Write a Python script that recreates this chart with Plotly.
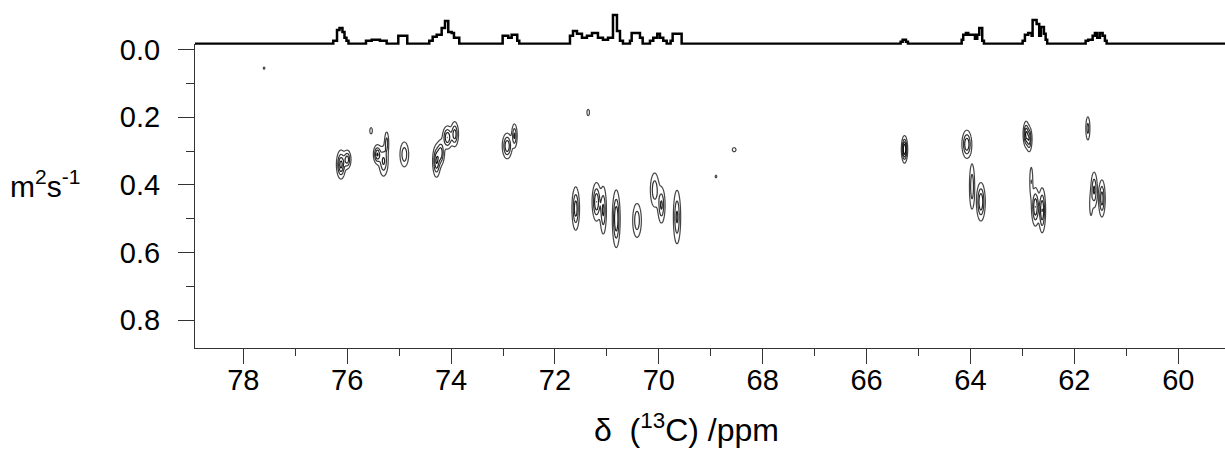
import numpy as np
import plotly.graph_objects as go

# ---------------- 1D 13C projection (step trace, ppm / relative intensity) ----------------
spec_ppm = [79.0, 76.268, 76.196, 76.148, 76.091, 76.052, 76.014, 75.975,
            75.638, 75.528, 75.369, 75.240,
            75.016, 74.843,
            74.420, 74.354, 74.277, 74.181, 74.117, 74.054, 73.988, 73.944, 73.842,
            73.007, 72.899, 72.833, 72.726, 72.687,
            71.711, 71.653, 71.576, 71.480, 71.384, 71.287, 71.172, 71.076, 70.979,
            70.883, 70.806, 70.748, 70.691,
            70.556, 70.523, 70.363, 70.311,
            70.171, 70.107, 70.030, 69.978, 69.915, 69.849,
            69.773, 69.734, 69.561,
            65.345, 65.306, 65.243, 65.204,
            64.170, 64.140, 64.088, 64.043, 63.914, 63.870, 63.831, 63.774, 63.741,
            62.996, 62.952, 62.888, 62.823, 62.804, 62.727, 62.677, 62.644, 62.586,
            62.553, 62.523,
            61.783, 61.733, 61.648, 61.604, 61.560, 61.508, 61.456, 61.412, 61.379,
            59.0]
spec_int = [0, 3, 14, 16, 12, 6, 3, 0,
            3, 4, 3, 0,
            8, 0,
            3, 7, 9, 16, 23, 12, 11, 6, 0,
            8, 6, 9, 3, 0,
            8, 13, 10, 6, 8, 11, 6, 4, 6,
            29, 13, 3, 0,
            3, 11, 6, 0,
            3, 6, 10, 6, 3, 0,
            3, 10, 0,
            2, 4, 2, 0,
            4, 9, 11, 9, 5, 9, 16, 3, 0,
            3, 9, 11, 8, 24, 20, 8, 17, 10,
            4, 0,
            3, 4, 8, 11, 6, 11, 8, 3, 0,
            0]

# ---------------- DOSY cross peaks (ppm, D, widths, relative amplitude) ----------------
spot_ppm = [76.12, 76.00, 75.54, 75.42, 75.30, 75.24, 74.90, 74.28, 74.20, 74.07, 73.93,
            72.92, 72.78, 71.60, 71.20, 71.07, 70.82, 70.42, 70.08, 69.95, 69.65,
            68.90, 68.55, 71.36, 77.60,
            65.27, 64.07, 62.93, 62.87, 61.74, 63.97, 63.80, 62.83, 62.75, 62.62,
            61.62, 61.47, 61.68]
spot_D = [0.340, 0.325, 0.240, 0.310, 0.330, 0.275, 0.310, 0.330, 0.305, 0.260, 0.250,
          0.285, 0.255, 0.470, 0.450, 0.475, 0.500, 0.505, 0.415, 0.460, 0.495,
          0.375, 0.296, 0.186, 0.055,
          0.295, 0.280, 0.250, 0.265, 0.233, 0.405, 0.450, 0.390, 0.465, 0.475,
          0.415, 0.440, 0.460]
spot_sx = [0.045, 0.040, 0.020, 0.040, 0.050, 0.025, 0.050, 0.040, 0.040, 0.050, 0.040,
           0.050, 0.030, 0.040, 0.045, 0.035, 0.040, 0.050, 0.050, 0.040, 0.040,
           0.020, 0.030, 0.020, 0.020,
           0.030, 0.050, 0.030, 0.030, 0.025, 0.030, 0.045, 0.020, 0.040, 0.035,
           0.035, 0.035, 0.020]
spot_sy = [0.022, 0.015, 0.008, 0.015, 0.025, 0.020, 0.022, 0.025, 0.020, 0.018, 0.020,
           0.020, 0.020, 0.035, 0.030, 0.040, 0.045, 0.030, 0.030, 0.030, 0.045,
           0.005, 0.005, 0.008, 0.004,
           0.020, 0.022, 0.020, 0.020, 0.022, 0.040, 0.030, 0.030, 0.030, 0.035,
           0.030, 0.030, 0.025]
spot_amp = [1.0, 0.8, 0.3, 0.9, 0.7, 0.5, 0.6, 0.9, 0.8, 0.9, 0.8,
            0.9, 0.7, 0.8, 0.9, 0.7, 0.9, 0.6, 0.6, 0.7, 0.7,
            0.2, 0.3, 0.3, 0.2,
            1.2, 0.9, 0.9, 0.8, 0.5, 0.6, 0.9, 0.4, 0.9, 0.9,
            0.7, 0.8, 0.3]

x_ticks = [78, 76, 74, 72, 70, 68, 66, 64, 62, 60]
y_ticks = [0.0, 0.2, 0.4, 0.6, 0.8]
y_ticktext = ["0.0", "0.2", "0.4", "0.6", "0.8"]

# grid for the contour trace built from the peak list
gx = np.arange(61.0, 78.0, 0.01)
gy = np.arange(0.02, 0.62, 0.002)
X, Y = np.meshgrid(gx, gy)
Z = np.zeros_like(X)
for p, d, sx, sy, a in zip(spot_ppm, spot_D, spot_sx, spot_sy, spot_amp):
    Z += a * np.exp(-0.5 * ((X - p) / sx) ** 2 - 0.5 * ((Y - d) / sy) ** 2)
Z = Z.astype(np.float32)

FONT = "Arial, Liberation Sans, sans-serif"

fig = go.Figure()
fig.add_trace(go.Contour(
    x=gx, y=gy, z=Z,
    contours=dict(coloring="lines", start=0.15, end=0.9, size=0.25),
    line=dict(width=1.2),
    colorscale=[[0, "#444444"], [1, "#111111"]],
    showscale=False, hoverinfo="skip",
    xaxis="x", yaxis="y",
))
fig.add_trace(go.Scatter(
    x=spec_ppm, y=spec_int, mode="lines",
    line=dict(color="black", width=2.5, shape="hv"),
    hoverinfo="skip", xaxis="x", yaxis="y2",
))

fig.update_layout(
    width=1225, height=451,
    margin=dict(l=195, r=0, t=8, b=103),
    paper_bgcolor="white", plot_bgcolor="white",
    showlegend=False,
    font=dict(family=FONT, color="black"),
    xaxis=dict(
        range=[78.93, 59.10], anchor="y",
        tickmode="array", tickvals=x_ticks,
        ticks="outside", ticklen=15, tickwidth=1, tickcolor="#333",
        minor=dict(dtick=1, tick0=59, ticks="outside", ticklen=7, tickwidth=1, tickcolor="#333"),
        showline=True, linecolor="#333", linewidth=1,
        showgrid=False, zeroline=False,
        ticklabelstandoff=-9,
        tickfont=dict(size=29, family=FONT),
    ),
    yaxis=dict(
        domain=[0, 0.9], range=[0.882, -0.0168],
        tickmode="array", tickvals=y_ticks, ticktext=y_ticktext,
        ticks="outside", ticklen=16, tickwidth=1, tickcolor="#333",
        minor=dict(tickvals=[0.1, 0.3, 0.5, 0.7], ticks="outside", ticklen=8, tickwidth=1, tickcolor="#333"),
        showline=True, linecolor="#333", linewidth=1,
        showgrid=False, zeroline=False,
        ticklabelstandoff=12,
        tickfont=dict(size=29, family=FONT),
    ),
    yaxis2=dict(
        domain=[0.897, 1.0], range=[-1, 34], anchor="x",
        visible=False, showgrid=False, zeroline=False,
    ),
    annotations=[
        dict(text="m<sup>2</sup>s<sup>-1</sup>", xref="paper", yref="paper",
             x=(8 - 195) / 1030, y=(348 - 183) / 340, xanchor="left", yanchor="middle",
             showarrow=False, font=dict(size=30, family=FONT)),
        dict(text="\u03b4\u00a0\u00a0(<sup>13</sup>C) /ppm", xref="paper", yref="paper",
             x=(686 - 195) / 1030, y=(348 - 428) / 340, xanchor="center", yanchor="middle",
             showarrow=False, font=dict(size=32, family=FONT)),
    ],
)

fig.write_html("out.html",
               config={"displayModeBar": False},
               post_script="document.body.style.margin='0';document.body.style.overflow='hidden';")
